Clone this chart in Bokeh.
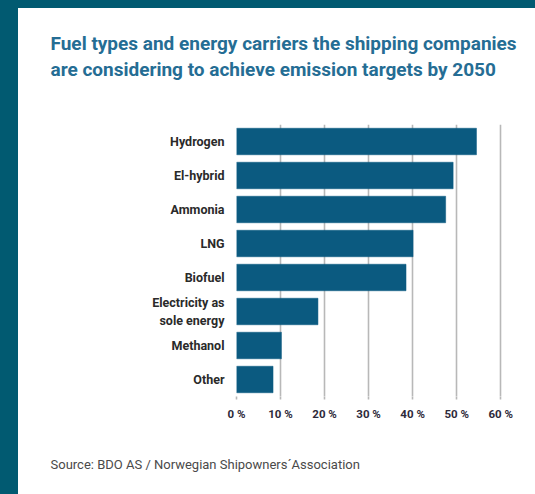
from bokeh.plotting import figure
from bokeh.models import FactorRange, Range1d, Title, FixedTicker, Spacer
from bokeh.layouts import column, row
from bokeh.embed import file_html
from bokeh.resources import INLINE

# ---- data ----
categories = ["Hydrogen", "El-hybrid", "Ammonia", "LNG", "Biofuel",
              "Electricity as\nsole energy", "Methanol", "Other"]
shares = [54.5, 49.2, 47.5, 40.1, 38.5, 18.5, 10.2, 8.3]
tick_values = [0, 10, 20, 30, 40, 50, 60]
tick_labels = ["0 %", "10 %", "20 %", "30 %", "40 %", "50 %", "60 %"]
title_line1 = "Fuel types and energy carriers the shipping companies"
title_line2 = "are considering to achieve emission targets by 2050"
source_note = "Source: BDO AS / Norwegian Shipowners\u00b4Association"

BAR = "#0b5a80"
TEAL = "#015a71"
TITLE_C = "#256d94"
GRID = "#b8b8b8"

p = figure(width=517, height=486,
           y_range=FactorRange(factors=categories[::-1]),
           x_range=Range1d(0, 62),
           output_backend="svg", toolbar_location=None,
           min_border_left=218, min_border_right=26,
           min_border_top=116, min_border_bottom=98)
p.outline_line_color = None
p.background_fill_color = "white"
p.border_fill_color = "white"

p.hbar(y=categories, right=shares, left=0, height=0.78,
       fill_color=BAR, line_color=BAR, line_width=0.5)

p.ygrid.grid_line_color = None
p.xgrid.ticker = FixedTicker(ticks=tick_values)
p.xgrid.grid_line_color = GRID
p.xgrid.grid_line_width = 1.6

xa = p.xaxis[0]
xa.ticker = FixedTicker(ticks=tick_values)
xa.major_label_overrides = {v: s for v, s in zip(tick_values, tick_labels)}
xa.axis_line_color = None
xa.major_tick_line_color = GRID
xa.major_tick_line_width = 1.6
xa.major_tick_out = 3
xa.major_tick_in = 0
xa.minor_tick_line_color = None
xa.major_label_standoff = 7
xa.major_label_text_font = "Roboto"
xa.major_label_text_font_style = "bold"
xa.major_label_text_font_size = "11.5px"
xa.major_label_text_color = "#2e2a3a"

ya = p.yaxis[0]
ya.axis_line_color = None
ya.major_tick_line_color = None
ya.major_tick_out = 0
ya.major_tick_in = 0
ya.major_label_standoff = 12
ya.major_label_text_font = "Roboto"
ya.major_label_text_font_style = "bold"
ya.major_label_text_font_size = "12.5px"
ya.major_label_text_color = "#2a2a2a"
ya.major_label_text_align = "right"

def title(text, size, style, color, standoff):
    return Title(text=text, align="left", offset=-186, standoff=standoff,
                 text_font="Roboto", text_font_style=style,
                 text_font_size=size, text_color=color)

# above: stacked outward from the frame
p.add_layout(title(" ", "10px", "normal", "white", 29), "above")
p.add_layout(title(title_line2, "19px", "bold", TITLE_C, 3), "above")
p.add_layout(title(title_line1, "19px", "bold", TITLE_C, 0), "above")
# below: after the x axis
p.add_layout(title(" ", "10px", "normal", "white", 17), "below")
p.add_layout(title(source_note, "13px", "normal", "#4a4a4a", 2), "below")

top_strip = Spacer(width=535, height=8, styles={"background-color": TEAL})
left_strip = Spacer(width=18, height=486, styles={"background-color": TEAL})
layout = column(top_strip, row(left_strip, p, spacing=0), spacing=0)

open("out.html", "w").write(file_html(layout, INLINE, title="Fuel types and energy carriers"))
